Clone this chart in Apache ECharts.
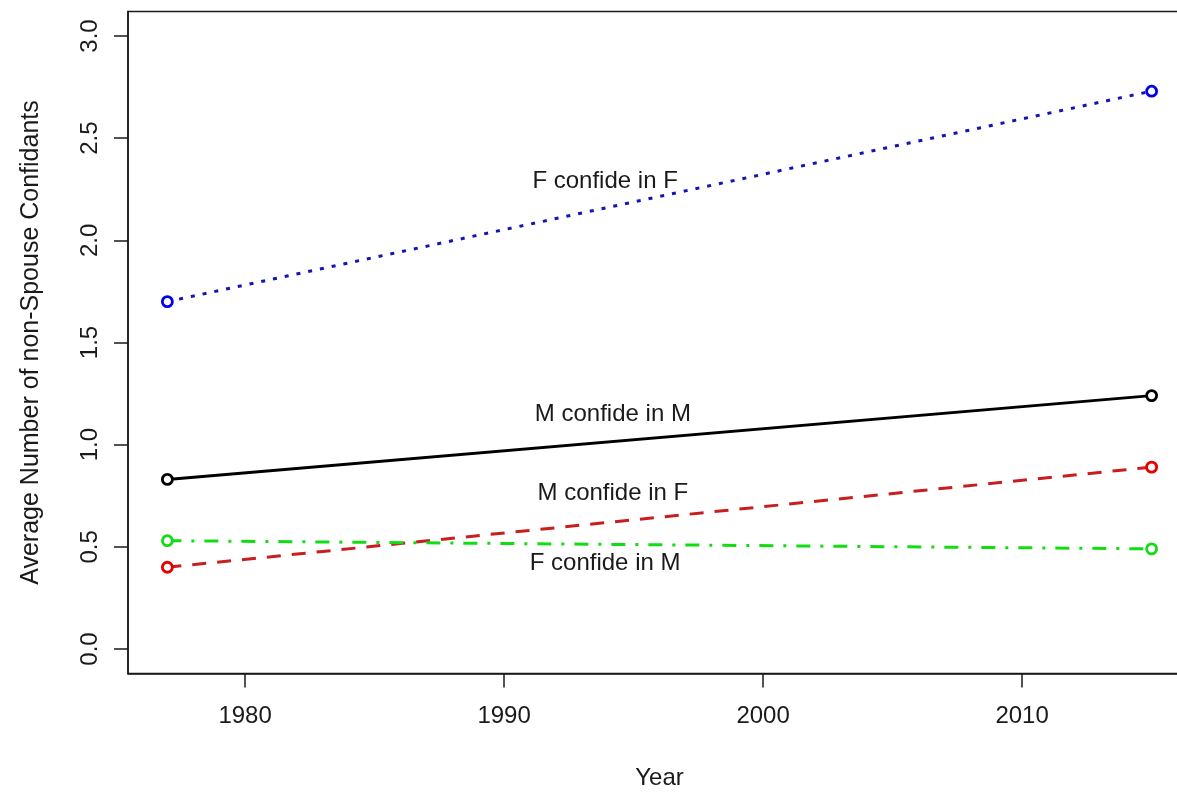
<!DOCTYPE html>
<html>
<head>
<meta charset="utf-8">
<title>Average Number of non-Spouse Confidants</title>
<script src="https://cdn.jsdelivr.net/npm/echarts@6/dist/echarts.min.js"></script>
<style>
  html, body { margin: 0; padding: 0; background: #ffffff; }
  #chart { width: 1177px; height: 792px; }
</style>
</head>
<body>
<div id="chart"></div>
<script>
// Survey years
const years = [1977, 2015];

// Average number of non-spouse confidants, by respondent / confidant gender
const fConfideInF = [1.70, 2.73];
const mConfideInM = [0.83, 1.24];
const mConfideInF = [0.40, 0.89];
const fConfideInM = [0.53, 0.49];

// Axis tick values
const xTicks = [1980, 1990, 2000, 2010];
const yTicks = [0, 0.5, 1.0, 1.5, 2.0, 2.5, 3.0];

// In-plot line labels and where they sit
const labelTexts = ['F confide in F', 'M confide in M', 'M confide in F', 'F confide in M'];
const labelX = [1993.9, 1994.2, 1994.2, 1993.9];
const labelY = [2.29, 1.15, 0.76, 0.42];

const FONT = '"Liberation Sans", Arial, sans-serif';
const INK = '#1a1a1a';
const FS = 24;

function pairs(values) {
  return years.map((yr, i) => [yr, values[i]]);
}

// Open-circle markers joined by a styled line
function lineSeries(name, values, lineColor, markColor, dash) {
  return {
    name: name,
    type: 'line',
    data: pairs(values),
    symbol: 'circle',
    symbolSize: 10,
    itemStyle: { color: '#ffffff', borderColor: markColor, borderWidth: 2.8, opacity: 1 },
    lineStyle: { color: lineColor, width: 3, type: dash, cap: 'butt' },
    silent: true
  };
}

const chart = echarts.init(document.getElementById('chart'), null, { renderer: 'canvas' });

chart.setOption({
  animation: false,
  backgroundColor: '#ffffff',
  textStyle: { fontFamily: FONT },
  grid: {
    left: 128,
    top: 11.5,
    width: 1063,
    height: 662,
    show: true,
    borderColor: INK,
    borderWidth: 1.5,
    backgroundColor: 'transparent',
    containLabel: false,
    outerBoundsMode: 'none'
  },
  xAxis: {
    type: 'value',
    min: 1975.48,
    max: 2016.52,
    name: 'Year',
    nameLocation: 'middle',
    nameGap: 93,
    nameTextStyle: { fontSize: FS, color: INK, fontFamily: FONT },
    axisLine: { show: true, onZero: false, lineStyle: { color: INK, width: 1.5 } },
    axisTick: { show: true, inside: false, length: 14, customValues: xTicks, lineStyle: { color: INK, width: 1.5 } },
    axisLabel: {
      show: true,
      customValues: xTicks,
      margin: 31,
      fontSize: FS,
      color: INK,
      fontFamily: FONT,
      formatter: v => String(v)
    },
    splitLine: { show: false }
  },
  yAxis: {
    type: 'value',
    min: -0.12,
    max: 3.12,
    name: 'Average Number of non-Spouse Confidants',
    nameLocation: 'middle',
    nameRotate: 90,
    nameGap: 84,
    nameTextStyle: { fontSize: 25, color: INK, fontFamily: FONT },
    axisLine: { show: true, onZero: false, lineStyle: { color: INK, width: 1.5 } },
    axisTick: { show: true, inside: false, length: 14, customValues: yTicks, lineStyle: { color: INK, width: 1.5 } },
    axisLabel: {
      show: true,
      customValues: yTicks,
      rotate: 90,
      margin: 26,
      fontSize: FS,
      color: INK,
      fontFamily: FONT,
      formatter: v => Number(v).toFixed(1)
    },
    splitLine: { show: false }
  },
  series: [
    lineSeries('F confide in F', fConfideInF, '#1414b4', '#0000ee', [4, 8]),
    lineSeries('M confide in M', mConfideInM, '#000000', '#000000', 'solid'),
    lineSeries('M confide in F', mConfideInF, '#c81e1e', '#e60000', [14, 11]),
    lineSeries('F confide in M', fConfideInM, '#12dd12', '#12dd12', [14, 10, 3, 10]),
    {
      name: 'labels',
      type: 'scatter',
      data: labelTexts.map((t, i) => ({ value: [labelX[i], labelY[i]], name: t })),
      symbolSize: 0,
      silent: true,
      z: 5,
      itemStyle: { opacity: 1 },
      label: {
        show: true,
        position: 'inside',
        formatter: p => p.name,
        fontSize: FS,
        color: INK,
        fontFamily: FONT,
        opacity: 1
      }
    }
  ]
});
</script>
</body>
</html>
